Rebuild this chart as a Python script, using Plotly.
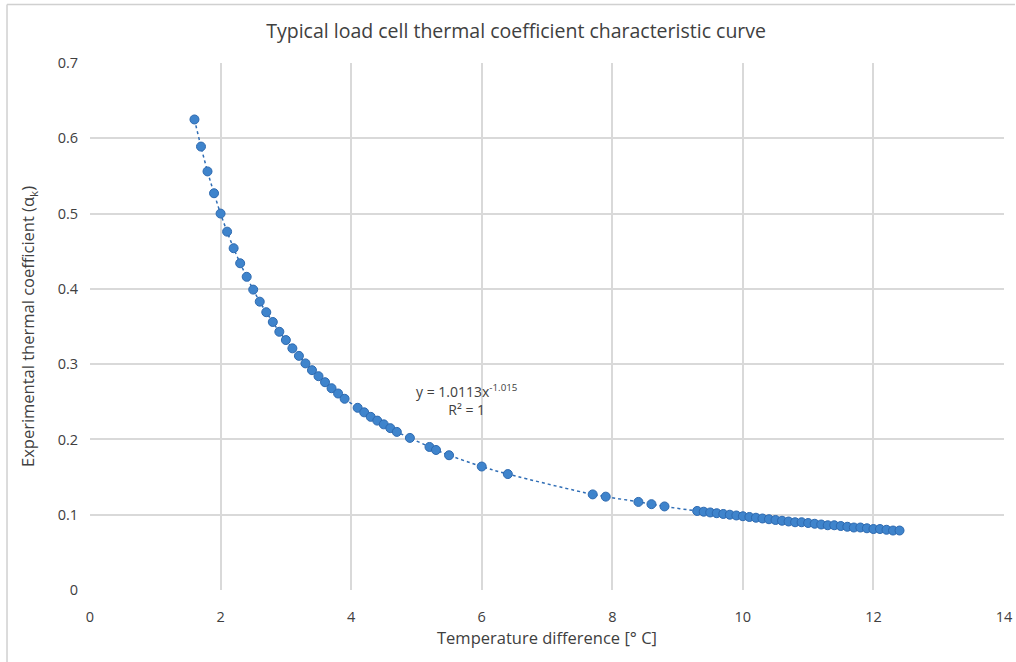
import plotly.graph_objects as go

# Temperature difference [°C]
temp_diff = [1.6, 1.7, 1.8, 1.9, 2.0, 2.1, 2.2, 2.3, 2.4, 2.5, 2.6, 2.7, 2.8, 2.9,
             3.0, 3.1, 3.2, 3.3, 3.4, 3.5, 3.6, 3.7, 3.8, 3.9,
             4.1, 4.2, 4.3, 4.4, 4.5, 4.6, 4.7, 4.9, 5.2, 5.3, 5.5, 6.0, 6.4,
             7.7, 7.9, 8.4, 8.6, 8.8,
             9.3, 9.4, 9.5, 9.6, 9.7, 9.8, 9.9, 10.0, 10.1, 10.2, 10.3, 10.4,
             10.5, 10.6, 10.7, 10.8, 10.9, 11.0, 11.1, 11.2, 11.3, 11.4, 11.5,
             11.6, 11.7, 11.8, 11.9, 12.0, 12.1, 12.2, 12.3, 12.4]

# Experimental thermal coefficient (alpha_k)
alpha_k = [0.625, 0.589, 0.556, 0.527, 0.500, 0.476, 0.454, 0.434, 0.416, 0.399,
           0.383, 0.369, 0.356, 0.343, 0.332, 0.321, 0.311, 0.301, 0.292, 0.284,
           0.276, 0.268, 0.261, 0.254,
           0.242, 0.236, 0.230, 0.225, 0.220, 0.215, 0.210, 0.202, 0.190, 0.186,
           0.179, 0.164, 0.154,
           0.127, 0.124, 0.117, 0.114, 0.111,
           0.105, 0.104, 0.103, 0.102, 0.101, 0.100, 0.099, 0.098, 0.097, 0.096,
           0.095, 0.094, 0.093, 0.092, 0.091, 0.090, 0.090, 0.089, 0.088, 0.087,
           0.086, 0.086, 0.085, 0.084, 0.083, 0.083, 0.082, 0.081, 0.081, 0.080,
           0.079, 0.079]

x_ticks = [0, 2, 4, 6, 8, 10, 12, 14]
y_ticks = [0, 0.1, 0.2, 0.3, 0.4, 0.5, 0.6, 0.7]
y_tick_labels = ["0", "0.1", "0.2", "0.3", "0.4", "0.5", "0.6", "0.7"]

title_text = "Typical load cell thermal coefficient characteristic curve"
x_title = "Temperature difference [° C]"
y_title = "Experimental thermal coefficient (α<sub>k</sub>)"
eq_text = "y = 1.0113x<sup>-1.015</sup><br>R² = 1"

font_family = "Open Sans, Noto Sans, sans-serif"
dark = "#404040"

fig = go.Figure()

# dotted trendline
fig.add_trace(go.Scatter(
    x=temp_diff, y=alpha_k, mode="lines",
    line=dict(color="#2f6db5", width=1.5, dash="dot", shape="spline"),
    hoverinfo="skip", showlegend=False))

# data points
fig.add_trace(go.Scatter(
    x=temp_diff, y=alpha_k, mode="markers",
    marker=dict(size=9, color="#3f84cc", line=dict(color="#2e6ab0", width=1)),
    showlegend=False))

fig.add_annotation(
    x=5.78, y=0.253, xref="x", yref="y", text=eq_text, showarrow=False,
    align="center", font=dict(family=font_family, size=14, color=dark))

# chart frame lines (left and top)
fig.add_shape(type="line", xref="paper", yref="paper",
              x0=-0.0908, x1=-0.0908, y0=-0.14, y1=1.111,
              line=dict(color="#d0d0d0", width=1.5))
fig.add_shape(type="line", xref="paper", yref="paper",
              x0=-0.0908, x1=1.012, y0=1.111, y1=1.111,
              line=dict(color="#d0d0d0", width=1.5))

fig.update_layout(
    width=1016, height=662,
    paper_bgcolor="white", plot_bgcolor="white",
    margin=dict(l=90, r=12, t=63, b=72),
    title=dict(text=title_text, x=0.508, xanchor="center", y=0.953, yanchor="middle",
               font=dict(family=font_family, size=19.5, color=dark)),
    font=dict(family=font_family, color=dark),
    xaxis=dict(range=[0, 14], tickvals=x_ticks, ticktext=[str(v) for v in x_ticks],
               showgrid=True, gridcolor="#d9d9d9", gridwidth=1.5, zeroline=False,
               showline=False, ticks="outside", ticklen=14, tickcolor="rgba(0,0,0,0)",
               automargin=False, tickfont=dict(size=14.5, color=dark),
               title=dict(text=x_title, font=dict(size=16.5, color=dark), standoff=6)),
    yaxis=dict(range=[0, 0.7], tickvals=y_ticks, ticktext=y_tick_labels,
               showgrid=True, gridcolor="#d9d9d9", gridwidth=1.5, zeroline=False,
               showline=False, ticks="outside", ticklen=8, tickcolor="rgba(0,0,0,0)",
               automargin=False, tickfont=dict(size=14.5, color=dark),
               title=dict(text=y_title, font=dict(size=16.5, color=dark), standoff=18)),
)

fig.write_html("out.html", config={"displayModeBar": False},
               post_script="document.body.style.margin='0';")
